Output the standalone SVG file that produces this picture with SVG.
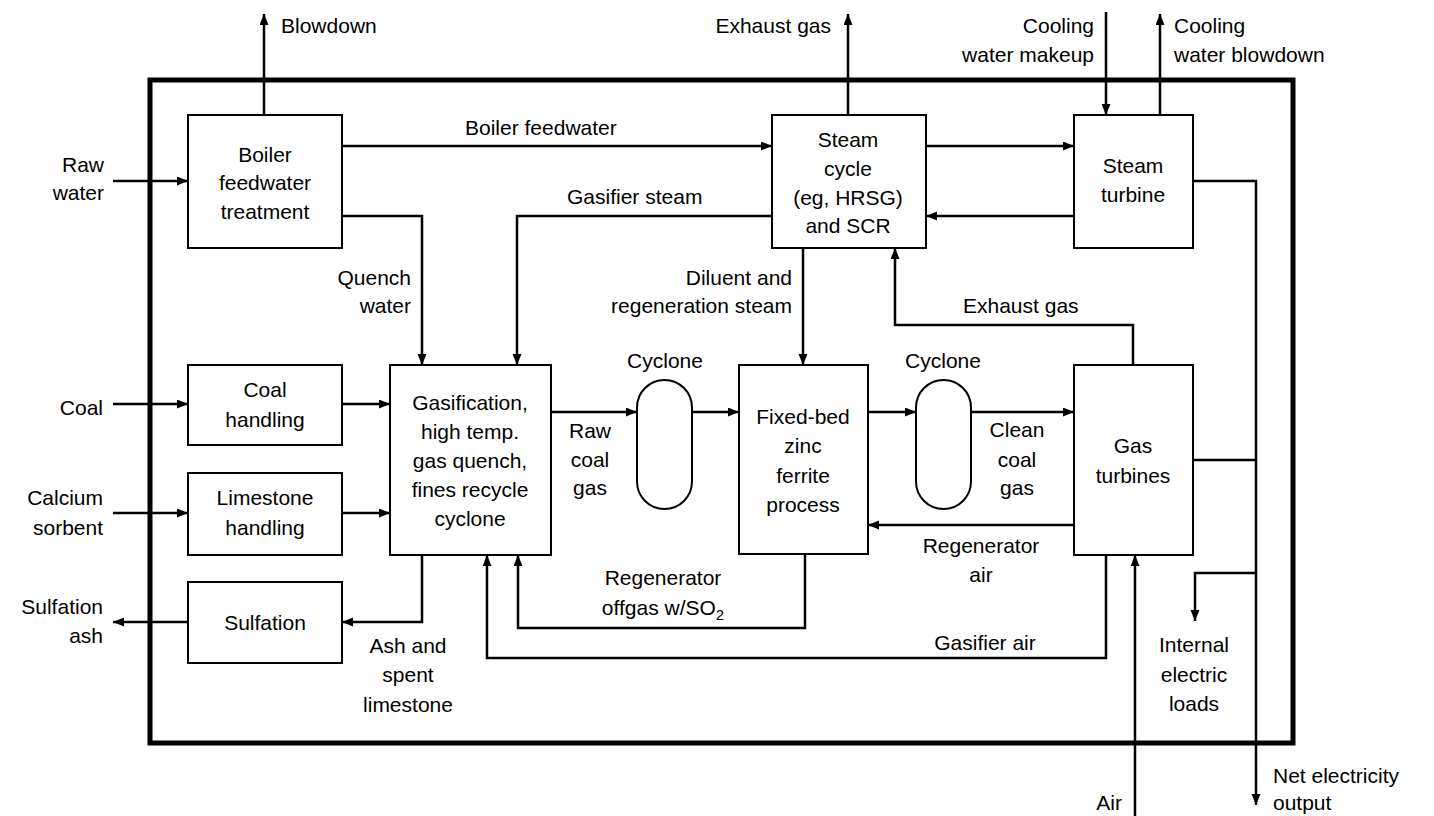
<svg xmlns="http://www.w3.org/2000/svg" width="1434" height="816" viewBox="0 0 1434 816">
<style>
.box{fill:#fff;stroke:#000;stroke-width:2}
.cn{fill:none;stroke:#000;stroke-width:2.5}
.cna{fill:none;stroke:#000;stroke-width:2.5;marker-end:url(#ah)}
text{font-family:"Liberation Sans",Arial,sans-serif;font-size:21px;fill:#000}
.m{text-anchor:middle}
.e{text-anchor:end}
</style>
<defs>
<marker id="ah" markerUnits="userSpaceOnUse" markerWidth="12" markerHeight="10" refX="11" refY="4.5" orient="auto">
<path d="M0,0 L11,4.5 L0,9 z" fill="#000"/>
</marker>
</defs>
<rect width="1434" height="816" fill="#fff"/>
<rect id="boundary" x="150" y="80" width="1143" height="663" fill="none" stroke="#000" stroke-width="5"/>

<g id="connectors">
<path class="cna" d="M264,115 V14"/>
<path class="cna" d="M113,181 H188"/>
<path class="cna" d="M342,146 H772"/>
<path class="cna" d="M342,216 H422 V365"/>
<path class="cna" d="M772,216 H517 V365"/>
<path class="cna" d="M848,115 V14"/>
<path class="cna" d="M926,146 H1074"/>
<path class="cna" d="M1074,216 H926"/>
<path class="cna" d="M1106,12 V115"/>
<path class="cna" d="M1160,115 V14"/>
<path class="cna" d="M1193,181 H1256 V805"/>
<path class="cna" d="M803,248 V365"/>
<path class="cna" d="M1133,365 V325 H895 V248"/>
<path class="cna" d="M113,404 H188"/>
<path class="cna" d="M342,404 H390"/>
<path class="cna" d="M113,513 H188"/>
<path class="cna" d="M342,513 H390"/>
<path class="cna" d="M551,412 H637"/>
<path class="cna" d="M692,412 H739"/>
<path class="cna" d="M868,412 H916"/>
<path class="cna" d="M971,412 H1074"/>
<path class="cna" d="M1074,525 H868"/>
<path class="cn" d="M1193,460 H1256"/>
<path class="cna" d="M1256,573 H1195 V621"/>
<path class="cna" d="M1106,555 V658 H487 V555"/>
<path class="cna" d="M805,555 V628 H518 V555"/>
<path class="cna" d="M422,555 V622 H342"/>
<path class="cna" d="M188,622 H113"/>
<path class="cna" d="M1135,816 V555"/>
</g>

<g id="boiler-feedwater-treatment">
<rect class="box" x="188" y="115" width="154" height="133"/>
<text class="m" x="265" y="162">Boiler</text>
<text class="m" x="265" y="190">feedwater</text>
<text class="m" x="265" y="219">treatment</text>
</g>
<g id="steam-cycle">
<rect class="box" x="772" y="115" width="154" height="133"/>
<text class="m" x="848" y="147">Steam</text>
<text class="m" x="848" y="176">cycle</text>
<text class="m" x="848" y="205">(eg, HRSG)</text>
<text class="m" x="848" y="233">and SCR</text>
</g>
<g id="steam-turbine">
<rect class="box" x="1074" y="115" width="119" height="133"/>
<text class="m" x="1133" y="173">Steam</text>
<text class="m" x="1133" y="202">turbine</text>
</g>
<g id="coal-handling">
<rect class="box" x="188" y="365" width="154" height="80"/>
<text class="m" x="265" y="397">Coal</text>
<text class="m" x="265" y="427">handling</text>
</g>
<g id="limestone-handling">
<rect class="box" x="188" y="473" width="154" height="82"/>
<text class="m" x="265" y="505">Limestone</text>
<text class="m" x="265" y="535">handling</text>
</g>
<g id="sulfation">
<rect class="box" x="188" y="582" width="154" height="81"/>
<text class="m" x="265" y="630">Sulfation</text>
</g>
<g id="gasification">
<rect class="box" x="390" y="365" width="161" height="190"/>
<text class="m" x="470" y="410">Gasification,</text>
<text class="m" x="470" y="439">high temp.</text>
<text class="m" x="470" y="468">gas quench,</text>
<text class="m" x="470" y="497">fines recycle</text>
<text class="m" x="470" y="526">cyclone</text>
</g>
<g id="cyclone-1">
<rect class="box" x="637" y="380" width="55" height="129" rx="27.5" ry="27.5"/>
<text class="m" x="665" y="368">Cyclone</text>
</g>
<g id="fixed-bed">
<rect class="box" x="739" y="365" width="129" height="189"/>
<text class="m" x="803" y="424">Fixed-bed</text>
<text class="m" x="803" y="453">zinc</text>
<text class="m" x="803" y="483">ferrite</text>
<text class="m" x="803" y="512">process</text>
</g>
<g id="cyclone-2">
<rect class="box" x="916" y="380" width="55" height="129" rx="27.5" ry="27.5"/>
<text class="m" x="943" y="368">Cyclone</text>
</g>
<g id="gas-turbines">
<rect class="box" x="1074" y="365" width="119" height="190"/>
<text class="m" x="1133" y="453">Gas</text>
<text class="m" x="1133" y="483">turbines</text>
</g>

<g id="labels">
<text x="281" y="33">Blowdown</text>
<text class="e" x="104" y="172">Raw</text>
<text class="e" x="104" y="200">water</text>
<text x="465" y="135">Boiler feedwater</text>
<text x="567" y="204">Gasifier steam</text>
<text class="e" x="411" y="285">Quench</text>
<text class="e" x="411" y="313">water</text>
<text class="e" x="831" y="33">Exhaust gas</text>
<text class="e" x="1094" y="33">Cooling</text>
<text class="e" x="1094" y="62">water makeup</text>
<text x="1174" y="33">Cooling</text>
<text x="1174" y="62">water blowdown</text>
<text class="e" x="792" y="285">Diluent and</text>
<text class="e" x="792" y="313">regeneration steam</text>
<text x="963" y="313">Exhaust gas</text>
<text class="e" x="103" y="415">Coal</text>
<text class="e" x="103" y="505">Calcium</text>
<text class="e" x="103" y="535">sorbent</text>
<text class="m" x="590" y="438">Raw</text>
<text class="m" x="590" y="467">coal</text>
<text class="m" x="590" y="495">gas</text>
<text class="m" x="1017" y="437">Clean</text>
<text class="m" x="1017" y="467">coal</text>
<text class="m" x="1017" y="495">gas</text>
<text class="m" x="981" y="553">Regenerator</text>
<text class="m" x="981" y="582">air</text>
<text class="m" x="663" y="585">Regenerator</text>
<text class="m" x="663" y="615">offgas w/SO<tspan font-size="15" dy="5">2</tspan></text>
<text class="m" x="985" y="650">Gasifier air</text>
<text class="e" x="103" y="614">Sulfation</text>
<text class="e" x="103" y="643">ash</text>
<text class="m" x="408" y="653">Ash and</text>
<text class="m" x="408" y="682">spent</text>
<text class="m" x="408" y="712">limestone</text>
<text class="m" x="1194" y="652">Internal</text>
<text class="m" x="1194" y="682">electric</text>
<text class="m" x="1194" y="711">loads</text>
<text x="1273" y="783">Net electricity</text>
<text x="1273" y="810">output</text>
<text class="e" x="1122" y="810">Air</text>
</g>
</svg>
